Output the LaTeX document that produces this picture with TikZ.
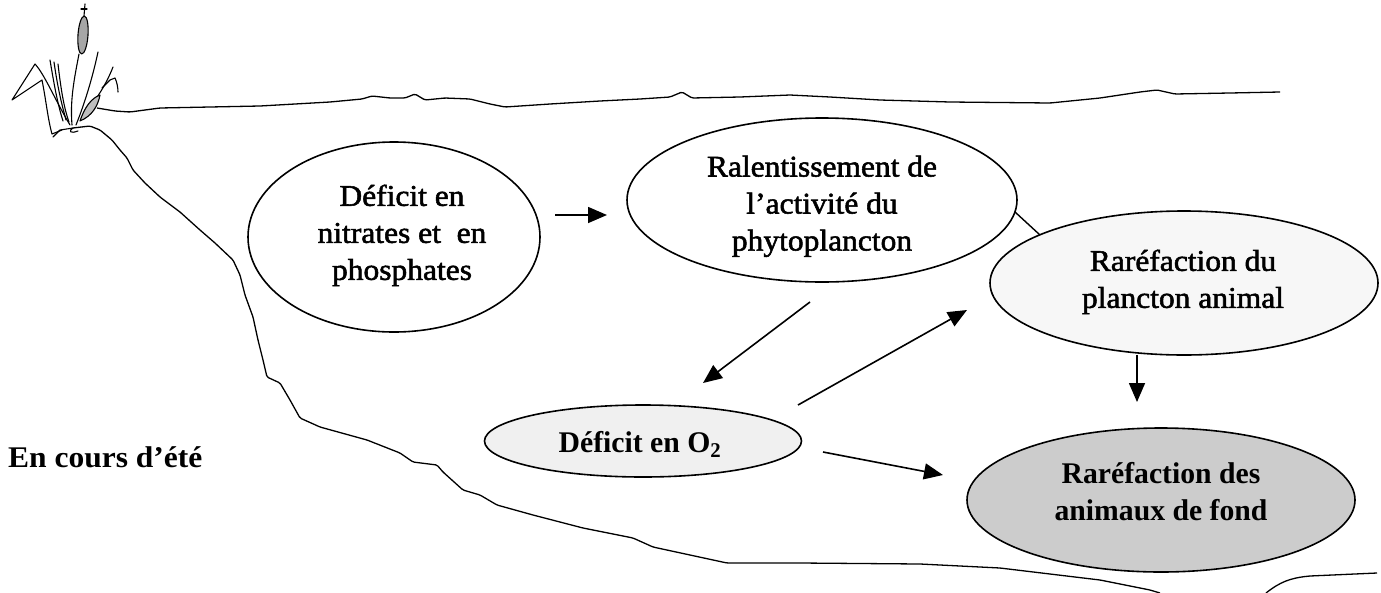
\documentclass[tikz,border=0pt]{standalone}
\usepackage{fontspec}
\setmainfont{Liberation Serif}
\newfontfamily\frs[FakeStretch=1.05,FakeBold=1.8]{Liberation Serif}
\newfontfamily\frd[FakeStretch=0.99]{Liberation Serif}
\newfontfamily\frb[FakeStretch=1.05]{Liberation Serif}
\usetikzlibrary{arrows.meta,shapes.geometric}
\begin{document}
\begin{tikzpicture}[x=1pt,y=-1pt,
  bubble/.style={draw, ellipse, line width=1.6pt, inner sep=0pt},
  lbl/.style={font=\frs\fontsize{30}{37}\selectfont, align=center, inner sep=0pt, anchor=north},
  lbld/.style={font=\frd\bfseries\fontsize{30}{37}\selectfont, align=center, inner sep=0pt, anchor=north},
  arr/.style={line width=1.6pt, -{Triangle[length=19pt,width=16pt]}},
  shore/.style={line width=1.3pt, line join=round, rounded corners=1.5pt},
  plant/.style={line width=1.1pt, line cap=round, line join=round}]
\useasboundingbox (0,0) rectangle (1381,592);
\fill[white] (0,0) rectangle (1381,592);

% water surface
\draw[shore] (97,108) -- (115,111) -- (130,112) -- (160,108) -- (260,106) -- (330,102) -- (362,99)
  -- (372,96) -- (390,98) -- (405,98) -- (415,94) -- (425,100) -- (445,98) -- (470,99) -- (490,104)
  -- (505,107) -- (550,104) -- (600,101) -- (640,99) -- (670,97) -- (682,92) -- (692,98) -- (740,97)
  -- (790,95) -- (830,97) -- (880,100) -- (950,102) -- (1050,103) -- (1100,98) -- (1140,92)
  -- (1157,90) -- (1175,94) -- (1230,93) -- (1280,92);

% lake bottom
\draw[shore] (73,128) -- (90,126) -- (100,130) -- (112,140) -- (120,150) -- (127,158) -- (133,170)
  -- (145,183) -- (160,197) -- (180,212) -- (200,230) -- (215,243) -- (233,260) -- (240,275)
  -- (245,295) -- (253,317) -- (258,340) -- (263,360) -- (267,377) -- (280,383) -- (290,400)
  -- (300,418) -- (320,427) -- (367,440) -- (400,453) -- (413,462) -- (437,465) -- (443,472)
  -- (463,490) -- (480,495) -- (497,505) -- (533,515) -- (583,528) -- (633,538) -- (653,547)
  -- (727,563) -- (800,563) -- (920,564) -- (1000,568) -- (1100,580) -- (1150,590) -- (1160,593);
\draw[shore] (1266,593) .. controls (1280,582) and (1290,578) .. (1310,576) -- (1377,573);

% plant
\begin{scope}[plant]
  \draw[fill=black!35, rotate around={-4:(83,35)}] (83,35) ellipse (5pt and 19pt);
  \draw (84,16) -- (85,4);
  \draw (81,9) -- (87,9);
  \draw (79,54) .. controls (74,80) and (70,100) .. (72,125);
  \draw (70,125) .. controls (55,100) and (45,75) .. (35,64) -- (12,100) -- (42,80)
        .. controls (46,100) and (48,120) .. (52,134) -- (62,130);
  \draw (50,60) .. controls (55,90) and (58,105) .. (63,121);
  \draw (54,62) .. controls (58,90) and (62,105) .. (66,120);
  \draw (58,64) .. controls (61,90) and (64,108) .. (69,122);
  \draw (98,52) .. controls (92,80) and (84,105) .. (76,125);
  \draw (113,67) .. controls (106,85) and (96,100) .. (83,116);
  \draw (102,88) -- (110,80) -- (115,78) .. controls (117,82) and (118,88) .. (118,92);
  \draw[fill=black!25] (80,121) .. controls (85,106) and (92,98) .. (100,95)
        .. controls (98,106) and (92,116) .. (80,121);
  \draw (73,128) -- (60,130) -- (53,137);
  \draw (73,128) .. controls (68,131) and (70,134) .. (78,131);
\end{scope}

% bubbles
\node[bubble, minimum width=292pt, minimum height=190pt] (nit) at (394,237) {};
\node[bubble, minimum width=390pt, minimum height=164pt] (ral) at (822,200) {};
\node[bubble, fill=black!3, minimum width=388pt, minimum height=144pt] (pla) at (1184,283) {};
\node[bubble, fill=black!6, minimum width=317pt, minimum height=72pt] (oxy) at (643,441) {};
\node[bubble, fill=black!20, minimum width=388pt, minimum height=144pt] (ani) at (1161,500) {};

% texts
\node[lbl] (nitt) at (402,184.5) {Déficit en\\nitrates et \ en\\phosphates};
\node[lbl] (ralt) at (822,155.5) {Ralentissement de\\l’activité du\\phytoplancton};
\node[lbl] (plat) at (1183,249.5) {Raréfaction du\\plancton animal};
\node[font=\frd\bfseries\fontsize{30}{37}\selectfont, inner sep=0pt, anchor=base] (oxyt) at (640,452) {Déficit en O\textsubscript{2}};
\node[lbld] (anit) at (1161,462.5) {Raréfaction des\\animaux de fond};
\node[font=\frb\bfseries\fontsize{30}{36}\selectfont, inner sep=0pt, anchor=base west] (ete) at (8,467) {En cours d’été};

% connectors
\coordinate (a1s) at (555,215);
\coordinate (a1e) at (607,215);
\coordinate (a2s) at (810,302);
\coordinate (a2e) at (703,383);
\coordinate (a3s) at (798,405);
\coordinate (a3e) at (967,310);
\coordinate (a4s) at (1137,355);
\coordinate (a4e) at (1137,402);
\coordinate (a5s) at (823,452);
\coordinate (a5e) at (943,475);
\coordinate (cs) at (1015,212);
\coordinate (ce) at (1040,235);
\draw[arr] (a1s) -- (a1e);
\draw[arr] (a2s) -- (a2e);
\draw[arr] (a3s) -- (a3e);
\draw[arr] (a4s) -- (a4e);
\draw[arr] (a5s) -- (a5e);
\draw[line width=1.4pt] (cs) -- (ce);
\end{tikzpicture}
\end{document}
